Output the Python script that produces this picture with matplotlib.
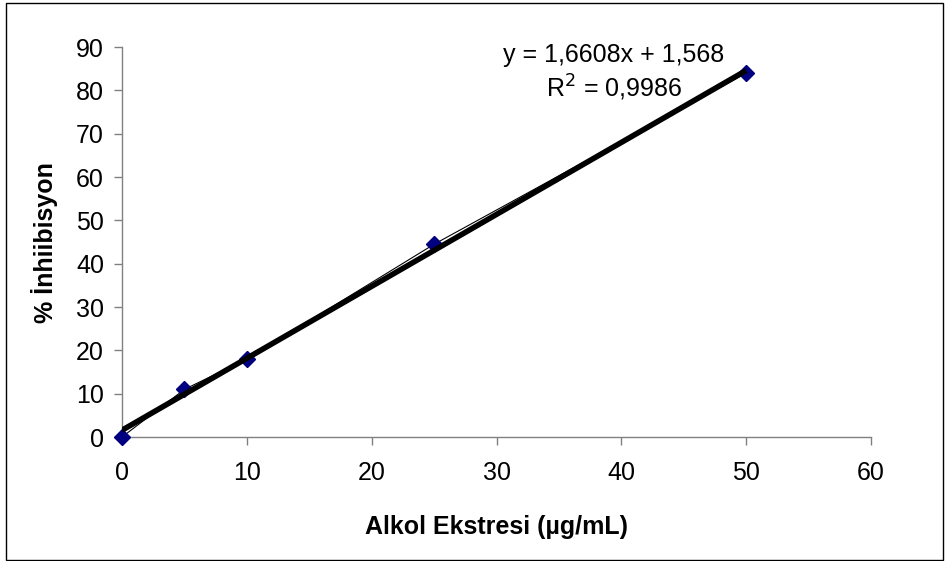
import numpy as np
import matplotlib.pyplot as plt
from matplotlib.patches import Rectangle

plt.rcParams['font.family'] = ['Liberation Sans', 'DejaVu Sans']

# data
conc = [0, 5, 10, 25, 50]
inhib = [0, 11, 18, 44.5, 84]
slope = 1.6608
intercept = 1.568
x_ticks = [0, 10, 20, 30, 40, 50, 60]
y_ticks = [0, 10, 20, 30, 40, 50, 60, 70, 80, 90]

fig = plt.figure(figsize=(9.51, 5.61), dpi=100)
ax = fig.add_axes([0.1283, 0.221, 0.7876, 0.695])

# outer chart border
fig.patches.append(Rectangle((6 / 951, 1 / 561), 937 / 951, 557 / 561, transform=fig.transFigure,
                             fill=False, edgecolor='black', linewidth=1))

# data line + markers
ax.plot(conc, inhib, color='black', linewidth=0.8, zorder=3)
ax.plot(conc, inhib, linestyle='none', marker='D', markersize=8, clip_on=False,
        markerfacecolor='#000080', markeredgecolor='#000080', zorder=4)
# trend line (drawn on top, like Excel)
xs = np.array([conc[0], conc[-1]])
ax.plot(xs, slope * xs + intercept, color='black', linewidth=4, solid_capstyle='butt', zorder=5)

ax.set_xlim(0, 60)
ax.set_ylim(0, 90)
ax.set_xticks(x_ticks)
ax.set_yticks(y_ticks)
ax.tick_params(direction='out', length=6, width=1, labelsize=18)
ax.tick_params(axis='x', pad=11)
ax.tick_params(axis='y', pad=7)
for s in ['top', 'right']:
    ax.spines[s].set_visible(False)
for s in ['left', 'bottom']:
    ax.spines[s].set_color('#808080')
    ax.spines[s].set_linewidth(1)
ax.tick_params(color='#808080', labelcolor='black')

ax.set_xlabel('Alkol Ekstresi (\u00b5g/mL)', fontsize=18, fontweight='bold', labelpad=22)
ax.set_ylabel('% \u0130nhiibisyon', fontsize=18, fontweight='bold', labelpad=13)

fig.text(614 / 951, 1 - 55 / 561, 'y = 1,6608x + 1,568', fontsize=18, ha='center', va='center')
fig.text(614 / 951, 1 - 88 / 561, 'R$^2$ = 0,9986', fontsize=18, ha='center', va='center')

fig.savefig('out.png', dpi=100)
